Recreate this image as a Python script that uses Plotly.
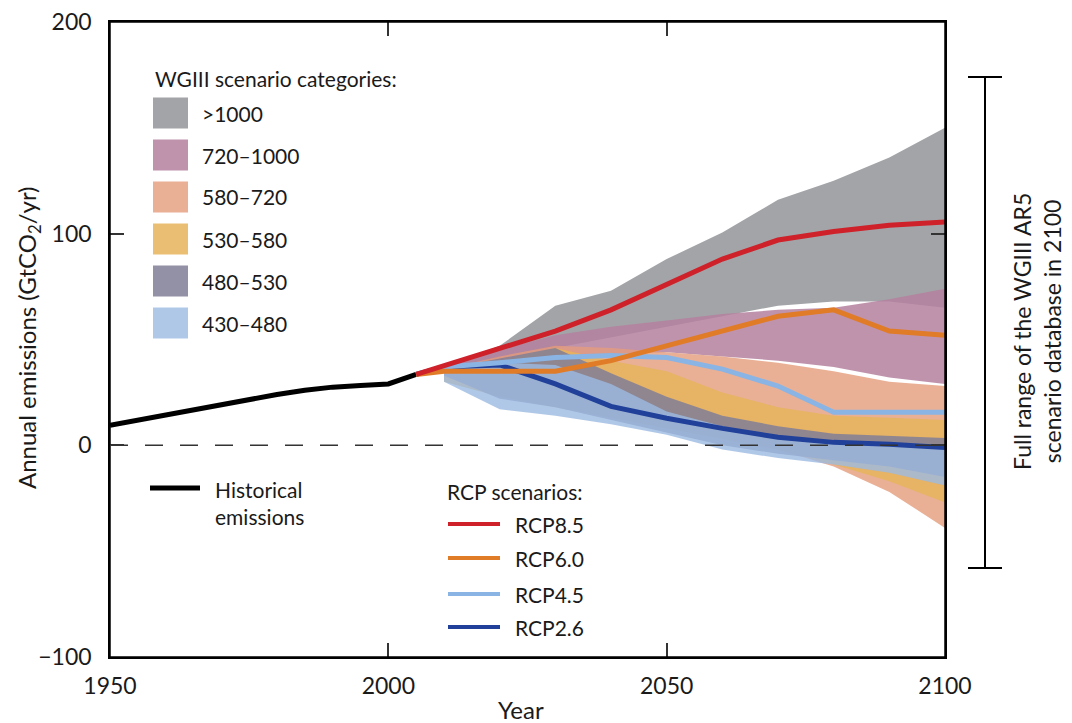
import plotly.graph_objects as go

# --- data -----------------------------------------------------------------
HIST_YEARS = [1950, 1955, 1960, 1965, 1970, 1975, 1980, 1985, 1990, 1995, 2000, 2005]
HIST_EMIS = [9.5, 12, 14.5, 17, 19.5, 22, 24, 26, 27.5, 28.3, 29, 33.5]

RCP_YEARS = [2005, 2010, 2020, 2030, 2040, 2050, 2060, 2070, 2080, 2090, 2100]
RCP85 = [33.5, 37.5, 46, 54, 64, 76, 88, 97, 101, 104, 105.5]
RCP60 = [33.5, 35, 35, 35, 40, 47, 54, 61, 64, 54, 52]
RCP45 = [33.5, 37, 39, 41.5, 42.5, 41.5, 36, 28, 15.6, 15.6, 15.6]
RCP26 = [33.5, 37, 38, 29, 18.4, 12.8, 8, 3.8, 1.4, 0.5, -1]

BAND_YEARS = [2010, 2020, 2030, 2040, 2050, 2060, 2070, 2080, 2090, 2100]
CATEGORIES = [">1000", "720\u20131000", "580\u2013720", "530\u2013580", "480\u2013530", "430\u2013480"]
BAND_UPPER = [
    [37, 47, 66, 73, 88, 100.6, 116, 125, 136, 150],
    [37, 45, 52, 56, 59, 62, 64, 65, 69, 74],
    [36, 42, 47, 46, 44, 42, 39, 35, 30, 28],
    [35, 40, 46, 40, 35, 25, 18, 14, 13, 12],
    [36, 41, 46, 34, 23, 14, 9, 5.5, 4.5, 3.5],
    [37, 39, 38, 29, 16, 9, 4, 2, 1, 0.5],
]
BAND_LOWER = [
    [36, 40, 46, 51, 56, 61, 66, 68, 68, 65],
    [35, 37, 40, 43, 44, 42, 40, 37, 32, 29],
    [32, 26, 22, 16, 10, 4, -2, -10, -22, -39],
    [30, 23, 18, 13, 8, 3, -2, -9, -17, -27],
    [33, 22, 18, 12, 6, 0, -4, -7, -10, -15],
    [30, 17, 14, 10, 5, -2, -6, -9, -13, -19],
]
FULL_RANGE_2100 = [-58, 174]

BAND_COLORS = [
    "rgba(163,164,168,1)",
    "rgba(181,128,159,0.85)",
    "rgba(228,156,124,0.8)",
    "rgba(230,180,92,0.85)",
    "rgba(128,126,150,0.85)",
    "rgba(156,186,226,0.8)",
]
RCP_NAMES = ["RCP8.5", "RCP6.0", "RCP4.5", "RCP2.6"]
RCP_COLORS = ["#cf2129", "#e07b27", "#8ab4e3", "#20409a"]

FONT = "Lato, sans-serif"
FS = 21

# the page body has an 8px margin, so the figure is drawn 8px in from the corner
OFF = 8
W, H = 1072 - OFF, 723 - OFF
# plot box in page pixels (for placing the hand-made legend)
L, R, T, B = 110, 945, 22, 657


def px(x):
    return (x - L) / (R - L)


def py(y):
    return (B - y) / (B - T)


fig = go.Figure()

for up, lo, col, name in zip(BAND_UPPER, BAND_LOWER, BAND_COLORS, CATEGORIES):
    fig.add_trace(go.Scatter(
        x=BAND_YEARS + BAND_YEARS[::-1],
        y=up + lo[::-1],
        fill="toself", fillcolor=col,
        line=dict(width=0), mode="lines",
        name=name, showlegend=False, hoverinfo="skip",
    ))

fig.add_trace(go.Scatter(
    x=HIST_YEARS, y=HIST_EMIS, mode="lines",
    line=dict(color="black", width=5), showlegend=False,
))

for series, col, name in reversed(list(zip([RCP85, RCP60, RCP45, RCP26], RCP_COLORS, RCP_NAMES))):
    fig.add_trace(go.Scatter(
        x=RCP_YEARS, y=series, mode="lines",
        line=dict(color=col, width=5), name=name, showlegend=False,
    ))

shapes = []
annotations = []


def label(x, y, text, size=FS, **kw):
    d = dict(x=px(x), y=py(y), xref="paper", yref="paper", text=text, showarrow=False,
             xanchor="left", yanchor="middle", font=dict(size=size))
    d.update(kw)
    annotations.append(d)


# frame round the plot area
shapes.append(dict(type="rect", xref="paper", yref="paper", x0=0, x1=1, y0=0, y1=1,
                   line=dict(color="black", width=1.5), layer="above"))

# zero line
shapes.append(dict(type="line", xref="x", yref="y", x0=1950, x1=2100, y0=0, y1=0,
                   line=dict(color="#333333", width=1.5, dash="18px,17px"), layer="above"))

# category legend
label(153, 78, "WGIII scenario categories:")
for i, (name, col) in enumerate(zip(CATEGORIES, BAND_COLORS)):
    cy = 113 + 42 * i
    shapes.append(dict(type="rect", xref="paper", yref="paper",
                       x0=px(153), x1=px(188), y0=py(cy + 15.5), y1=py(cy - 15.5),
                       fillcolor=col, line=dict(width=0)))
    label(200, cy, name)

# historical legend
shapes.append(dict(type="line", xref="paper", yref="paper", x0=px(150), x1=px(200), y0=py(488), y1=py(488),
                   line=dict(color="black", width=5)))
label(213, 503, "Historical<br>emissions", align="left")

# RCP legend
label(445, 491, "RCP scenarios:")
for i, (name, col) in enumerate(zip(RCP_NAMES, RCP_COLORS)):
    cy = [524, 558, 594, 627][i]
    shapes.append(dict(type="line", xref="paper", yref="paper", x0=px(448), x1=px(500), y0=py(cy), y1=py(cy),
                       line=dict(color=col, width=4)))
    label(513, cy, name)

# full range bracket
lo, hi = FULL_RANGE_2100
shapes.append(dict(type="line", xref="paper", yref="y", x0=px(985), x1=px(985), y0=lo, y1=hi,
                   line=dict(color="black", width=2)))
for v in (lo, hi):
    shapes.append(dict(type="line", xref="paper", yref="y", x0=px(968), x1=px(1002), y0=v, y1=v,
                       line=dict(color="black", width=2)))
label(1037, 332, "Full range of the WGIII AR5<br>scenario database in 2100", size=23,
      textangle=-90, xanchor="center")

# axis titles
label(521, 709, "Year", size=24, xanchor="center")
label(28, 338, "Annual emissions (GtCO<sub>2</sub>/yr)", size=24, textangle=-90, xanchor="center")

axis_common = dict(showline=True, linecolor="black", linewidth=1.5, mirror="ticks",
                   ticks="inside", ticklen=14, tickcolor="#333333", tickwidth=1.5,
                   showgrid=False, zeroline=False, tickfont=dict(size=23), automargin=False,
                   ticklabeloverflow="allow")

fig.update_layout(
    width=W, height=H,
    margin=dict(l=L - OFF, r=1072 - R, t=T - OFF, b=723 - B),
    plot_bgcolor="white", paper_bgcolor="white",
    font=dict(family=FONT, size=FS, color="#1a1a1a"),
    xaxis=dict(range=[1950, 2100], tickvals=[1950, 2000, 2050, 2100], ticklabelstandoff=8, **axis_common),
    yaxis=dict(range=[-100, 200], tickvals=[-100, 0, 100, 200], ticklabelstandoff=12, **axis_common),
    shapes=shapes,
    annotations=annotations,
    showlegend=False,
)

fig.write_html("out.html")
